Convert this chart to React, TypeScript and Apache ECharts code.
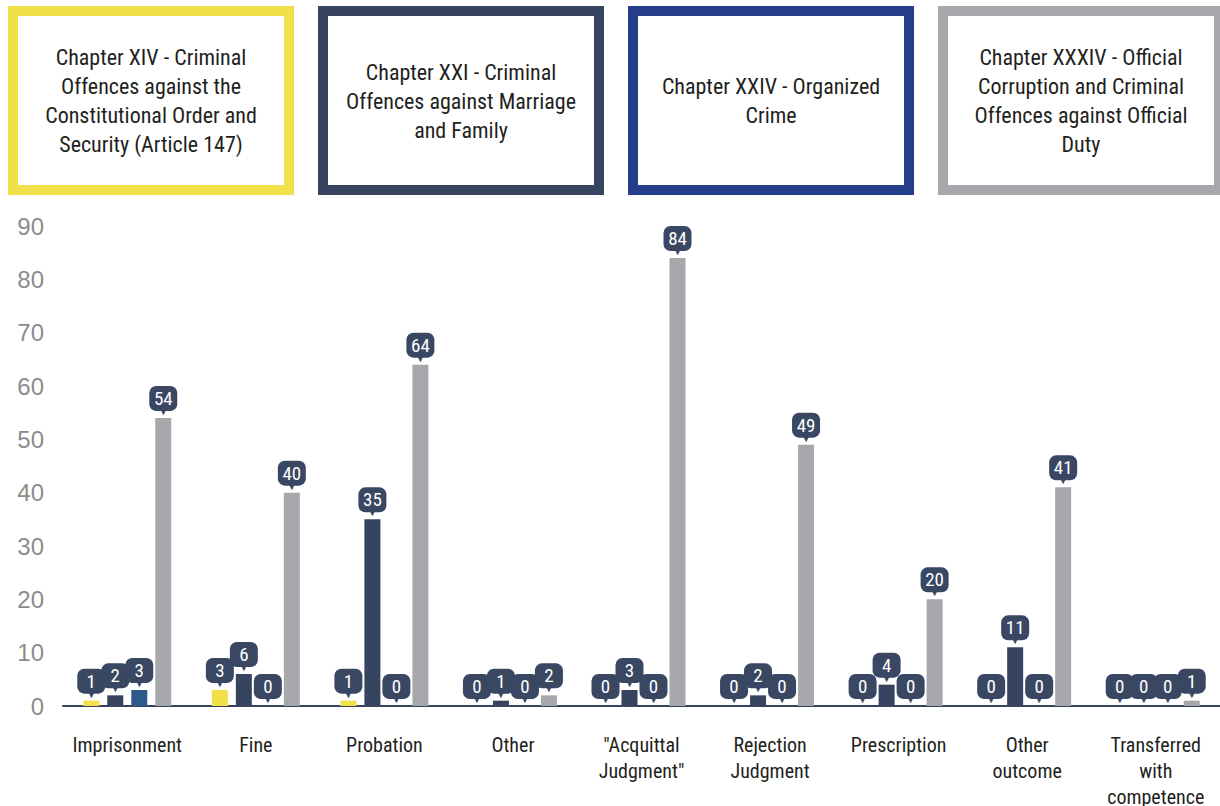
import React, { useEffect, useRef } from "react";
import * as echarts from "echarts";

const categories = [
  "Imprisonment",
  "Fine",
  "Probation",
  "Other",
  '"Acquittal\nJudgment"',
  "Rejection\nJudgment",
  "Prescription",
  "Other\noutcome",
  "Transferred\nwith\ncompetence",
];

const seriesNames = [
  "Chapter XIV - Criminal\nOffences against the\nConstitutional Order and\nSecurity (Article 147)",
  "Chapter XXI - Criminal\nOffences against Marriage\nand Family",
  "Chapter XXIV - Organized\nCrime",
  "Chapter XXXIV - Official\nCorruption and Criminal\nOffences against Official\nDuty",
];

const chapterXIV = [1, 3, 1, 0, 0, 0, 0, 0, 0];
const chapterXXI = [2, 6, 35, 1, 3, 2, 4, 11, 0];
const chapterXXIV = [3, 0, 0, 0, 0, 0, 0, 0, 0];
const chapterXXXIV = [54, 40, 64, 2, 84, 49, 20, 41, 1];

const yMin = 0;
const yMax = 90;
const yStep = 10;

const barColors = ["#F2E04B", "#36445F", "#2D5A8A", "#A7A8AC"];
const boxColors = ["#F2E04B", "#36445F", "#243E8C", "#A7A8AC"];
const bubbleColor = "#3A4762";
const FONT = "'Roboto Condensed', Roboto, sans-serif";

export default function App() {
  const ref = useRef<HTMLDivElement>(null);

  useEffect(() => {
    if (!ref.current) return;
    const chart = echarts.init(ref.current, undefined, { renderer: "svg" });
    const data = [chapterXIV, chapterXXI, chapterXXIV, chapterXXXIV];

    const graphics: any[] = [];
    seriesNames.forEach((name, i) => {
      const left = 8 + i * 310;
      graphics.push({
        type: "rect",
        shape: { x: left + 5, y: 11, width: 276, height: 179 },
        style: { fill: "#fff", stroke: boxColors[i], lineWidth: 10 },
        silent: true,
      });
      graphics.push({
        type: "text",
        x: left + 143,
        y: 101,
        style: {
          text: name,
          fill: "#231F20",
          fontSize: 22,
          fontFamily: FONT,
          lineHeight: 29,
          textAlign: "center",
          textVerticalAlign: "middle",
        },
        silent: true,
      });
    });

    chart.setOption({
      animation: false,
      graphic: graphics,
      grid: {
        left: 63,
        right: 0,
        top: 226,
        bottom: 100,
        containLabel: false,
        outerBoundsMode: "none",
      },
      xAxis: {
        type: "category",
        data: categories,
        axisLine: { lineStyle: { color: "#36445F", width: 2 } },
        axisTick: { show: false },
        axisLabel: {
          color: "#231F20",
          fontSize: 20,
          fontFamily: FONT,
          lineHeight: 26,
          margin: 26,
          interval: 0,
        },
      },
      yAxis: {
        type: "value",
        min: yMin,
        max: yMax,
        interval: yStep,
        splitLine: { show: false },
        axisLine: { show: false },
        axisTick: { show: false },
        axisLabel: {
          color: "#8C8C8C",
          fontSize: 24,
          fontFamily: "'Liberation Sans', Arial, sans-serif",
          margin: 19,
        },
      },
      series: data.map((vals, i) => ({
        name: seriesNames[i],
        type: "bar",
        data: vals,
        barWidth: 16,
        barGap: "50%",
        itemStyle: { color: barColors[i] },
        label: {
          show: true,
          position: "top",
          distance: 5,
          formatter: (p: any) => `{v|${p.value}}\n{t|▼}`,
          rich: {
            v: {
              backgroundColor: bubbleColor,
              color: "#fff",
              borderRadius: 7,
              fontSize: 19,
              lineHeight: 19,
              fontFamily: FONT,
              padding: [3, 5],
              width: 18,
              align: "center",
            },
            t: {
              color: bubbleColor,
              fontSize: 10,
              lineHeight: 5,
              align: "center",
              fontFamily: "'DejaVu Sans', sans-serif",
            },
          },
        },
      })),
    });

    return () => chart.dispose();
  }, []);

  return (
    <div
      ref={ref}
      style={{ position: "absolute", left: 0, top: 0, width: 1220, height: 806 }}
    />
  );
}
